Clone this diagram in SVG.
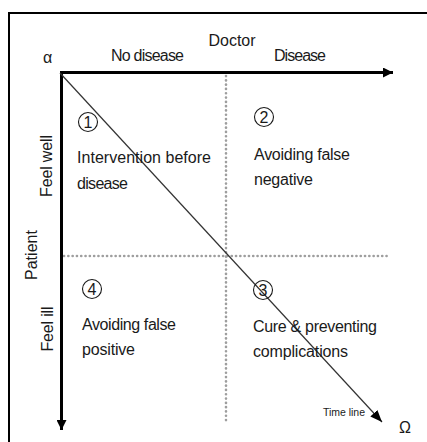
<svg xmlns="http://www.w3.org/2000/svg" width="427" height="442" viewBox="0 0 427 442">
<style>
text{font-family:"Liberation Sans",Arial,sans-serif;fill:#1a1a1a;}
.lbl{font-size:16px;}
.num{font-size:16px;text-anchor:middle;}
.dot{stroke:#9e9e9e;stroke-width:2.6;stroke-dasharray:0.1 4.2;stroke-linecap:round;fill:none;}
.circ{fill:none;stroke:#1a1a1a;stroke-width:1.1;}
</style>
<defs>
<marker id="ah" viewBox="0 0 10 10" refX="10" refY="5" markerWidth="10" markerHeight="10" markerUnits="userSpaceOnUse" orient="auto">
<path d="M0,0 L10,5 L0,10 z" fill="#000"/>
</marker>
<marker id="ahs" viewBox="0 0 10 10" refX="10" refY="5" markerWidth="12" markerHeight="12" markerUnits="userSpaceOnUse" orient="auto">
<path d="M0,1 L10,5 L0,9 z" fill="#000"/>
</marker>
</defs>
<rect x="0" y="0" width="427" height="442" fill="#fff"/>
<path d="M9,442 L9,13 L427,13" fill="none" stroke="#000" stroke-width="2"/>
<g id="connectors">
<line class="dot" x1="226" y1="76" x2="226" y2="424"/>
<line class="dot" x1="64" y1="256" x2="390" y2="256"/>
<line x1="60" y1="72.5" x2="393" y2="72.5" stroke="#000" stroke-width="3" marker-end="url(#ah)"/>
<line x1="61.5" y1="71" x2="61.5" y2="430" stroke="#000" stroke-width="3" marker-end="url(#ah)"/>
<line x1="60" y1="73" x2="382" y2="422" stroke="#333" stroke-width="1.2" marker-end="url(#ahs)"/>
</g>
<g id="axis-labels">
<text x="43" y="63" style="font-size:16px">α</text>
<text x="232" y="46" class="lbl" text-anchor="middle">Doctor</text>
<text x="111" y="61" class="lbl" textLength="73">No disease</text>
<text x="274" y="61" class="lbl" textLength="52">Disease</text>
<text transform="translate(52,166) rotate(-90)" class="lbl" text-anchor="middle" textLength="62">Feel well</text>
<text transform="translate(37,255) rotate(-90)" class="lbl" text-anchor="middle" textLength="50">Patient</text>
<text transform="translate(53,329) rotate(-90)" class="lbl" text-anchor="middle" textLength="45">Feel ill</text>
<text x="323" y="416" style="font-size:10.5px" textLength="42">Time line</text>
<text x="399" y="433" style="font-size:16px">Ω</text>
</g>
<g id="q1">
<circle class="circ" cx="88" cy="122" r="9.5"/>
<text x="88" y="128" class="num">1</text>
<text x="77" y="163" class="lbl" textLength="134">Intervention before</text>
<text x="77" y="189" class="lbl" textLength="51">disease</text>
</g>
<g id="q2">
<circle class="circ" cx="264" cy="117" r="9.5"/>
<text x="264" y="123" class="num">2</text>
<text x="254" y="160" class="lbl" textLength="96">Avoiding false</text>
<text x="254" y="185" class="lbl" textLength="59">negative</text>
</g>
<g id="q3">
<circle class="circ" cx="263" cy="290" r="9.5"/>
<text x="263" y="296" class="num">3</text>
<text x="253" y="332" class="lbl" textLength="124">Cure &amp; preventing</text>
<text x="253" y="357" class="lbl" textLength="95">complications</text>
</g>
<g id="q4">
<circle class="circ" cx="92" cy="289" r="9.5"/>
<text x="92" y="295" class="num">4</text>
<text x="82" y="330" class="lbl" textLength="94">Avoiding false</text>
<text x="82" y="355" class="lbl" textLength="53">positive</text>
</g>
</svg>
